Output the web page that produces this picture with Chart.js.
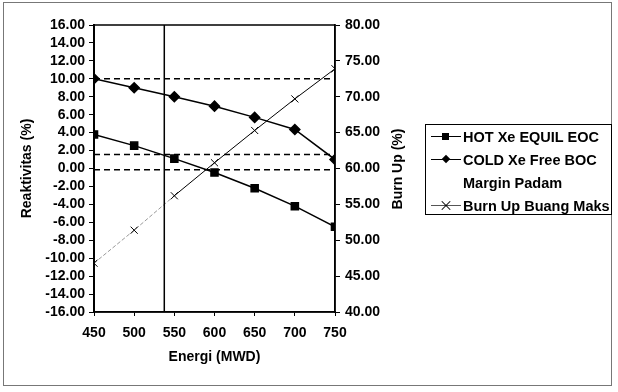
<!DOCTYPE html>
<html>
<head>
<meta charset="utf-8">
<script src="https://cdn.jsdelivr.net/npm/chart.js@4.4.1/dist/chart.umd.min.js"></script>
<style>
    body { margin: 0; background: #fff; }
    #wrap { position: relative; width: 618px; height: 392px; }
    #frame { position: absolute; left: 3px; top: 2px; width: 609px; height: 384px; border: 1px solid #777; box-sizing: border-box; }
    #legend { position: absolute; left: 425px; top: 124px; width: 187px; height: 91px; border: 1px solid #000; box-sizing: border-box;
              font: bold 14.5px "Liberation Sans", Arial, sans-serif; color: #000; padding-top: 0px; }
    .row { position: relative; height: 23px; line-height: 18px; padding-left: 37px; white-space: nowrap; }
    .row .ln { position: absolute; left: 5px; top: 8px; width: 30px; border-top: 1.5px solid #000; }
    .row .mk { position: absolute; left: 16px; top: 5px; width: 7px; height: 7px; background: #000; }
    .row .dm { transform: rotate(45deg); width: 6px; height: 6px; left: 17px; }
    .row .xx { position: absolute; left: 15px; top: 3px; width: 10px; height: 10px; }
    .row .xx::before, .row .xx::after { content: ""; position: absolute; left: -1px; top: 5px; width: 12px; border-top: 1px solid #000; }
    .row .xx::before { transform: rotate(45deg); }
    .row .xx::after { transform: rotate(-45deg); }
    #y2title { position: absolute; left: 397px; top: 169px; transform: translate(-50%, -50%) rotate(-90deg);
               font: bold 14px "Liberation Sans", Arial, sans-serif; white-space: nowrap; color: #000; }
</style>
</head>
<body>
<div id="wrap">
    <canvas id="chart" width="618" height="392"></canvas>
    <div id="frame"></div>
    <div id="y2title">Burn Up (%)</div>
    <div id="legend">
        <div class="row" style="margin-top:3px"><span class="ln"></span><span class="mk"></span>HOT Xe EQUIL EOC</div>
        <div class="row"><span class="ln"></span><span class="mk dm"></span>COLD Xe Free BOC</div>
        <div class="row">Margin Padam</div>
        <div class="row"><span class="ln" style="border-top:1px solid #555"></span><span class="xx"></span>Burn Up Buang Maks</div>
    </div>
</div>
<script>
    const energy = [450, 500, 550, 600, 650, 700, 750];
    const hotXeEquilEoc = [3.8, 2.55, 1.1, -0.45, -2.2, -4.2, -6.5];
    const coldXeFreeBoc = [10.0, 9.0, 8.0, 6.95, 5.7, 4.35, 1.0];
    const burnUpBuangMaks = [46.8, 51.4, 56.2, 60.8, 65.3, 69.7, 73.9];
    const marginLines = [10.0, 1.55, -0.15];
    const energyLimit = 537.5;

    const font = { family: '"Liberation Sans", Arial, sans-serif', size: 14, weight: 'bold' };

    const pts = (vals) => energy.map((x, i) => ({ x: x, y: vals[i] }));

    const dashed = marginLines.map(v => ({
        data: [{ x: 450, y: v }, { x: 750, y: v }],
        borderColor: '#000',
        borderWidth: 1.5,
        borderDash: [6, 4],
        pointRadius: 0,
        yAxisID: 'y'
    }));

    // plot box outline
    const frameBox = {
        id: 'frameBox',
        afterDraw(chart) {
            const a = chart.chartArea, c = chart.ctx;
            c.save();
            c.strokeStyle = '#000';
            c.lineWidth = 1.5;
            c.strokeRect(a.left, a.top, a.right - a.left, a.bottom - a.top);
            c.restore();
        }
    };

    new Chart(document.getElementById('chart').getContext('2d'), {
        type: 'line',
        data: {
            datasets: [
                ...dashed,
                {
                    data: [{ x: energyLimit, y: -16 }, { x: energyLimit, y: 16 }],
                    borderColor: '#000',
                    borderWidth: 1.5,
                    pointRadius: 0,
                    yAxisID: 'y'
                },
                {
                    label: 'HOT Xe EQUIL EOC',
                    data: pts(hotXeEquilEoc),
                    borderColor: '#000',
                    backgroundColor: '#000',
                    borderWidth: 1.5,
                    pointStyle: 'rect',
                    pointRadius: 5,
                    yAxisID: 'y'
                },
                {
                    label: 'COLD Xe Free BOC Margin Padam',
                    data: pts(coldXeFreeBoc),
                    borderColor: '#000',
                    backgroundColor: '#000',
                    borderWidth: 1.5,
                    pointStyle: 'rectRot',
                    pointRadius: 5,
                    yAxisID: 'y'
                },
                {
                    label: 'Burn Up Buang Maks',
                    data: pts(burnUpBuangMaks),
                    borderColor: '#000',
                    backgroundColor: '#000',
                    borderWidth: 1,
                    pointStyle: 'crossRot',
                    pointRadius: 5,
                    pointBorderWidth: 1,
                    segment: {
                        borderColor: ctx => ctx.p0.parsed.x < energyLimit ? '#999' : '#000',
                        borderDash: ctx => ctx.p0.parsed.x < energyLimit ? [4, 2] : undefined
                    },
                    yAxisID: 'y2'
                }
            ]
        },
        options: {
            responsive: false,
            animation: false,
            layout: { padding: { left: 14, top: 25, right: 208, bottom: 22 } },
            plugins: { legend: { display: false }, tooltip: { enabled: false } },
            elements: { line: { tension: 0 } },
            scales: {
                x: {
                    type: 'linear',
                    min: 450,
                    max: 750,
                    ticks: { stepSize: 50, color: '#000', font: font, padding: 9 },
                    grid: { drawOnChartArea: false, color: '#000', tickLength: 4 },
                    border: { color: '#000', width: 1.5 },
                    title: { display: true, text: 'Energi (MWD)', color: '#000', font: font, padding: 4 },
                    afterFit: s => { s.height = 58; }
                },
                y: {
                    position: 'left',
                    min: -16,
                    max: 16,
                    ticks: { stepSize: 2, autoSkip: false, color: '#000', font: font, padding: 4, callback: v => v.toFixed(2) },
                    grid: { drawOnChartArea: false, color: '#000', tickLength: 5 },
                    border: { color: '#000', width: 2 },
                    title: { display: true, text: 'Reaktivitas (%)', color: '#000', font: font, padding: 5 },
                    afterFit: s => { s.width = 80; }
                },
                y2: {
                    position: 'right',
                    min: 40,
                    max: 80,
                    ticks: { stepSize: 5, autoSkip: false, color: '#000', font: font, padding: 5, callback: v => v.toFixed(2) },
                    grid: { drawOnChartArea: false, color: '#000', tickLength: 5 },
                    border: { color: '#000', width: 1.5 },
                    title: { display: false },
                    afterFit: s => { s.width = 75; }
                }
            }
        },
        plugins: [frameBox]
    });
</script>
</body>
</html>
